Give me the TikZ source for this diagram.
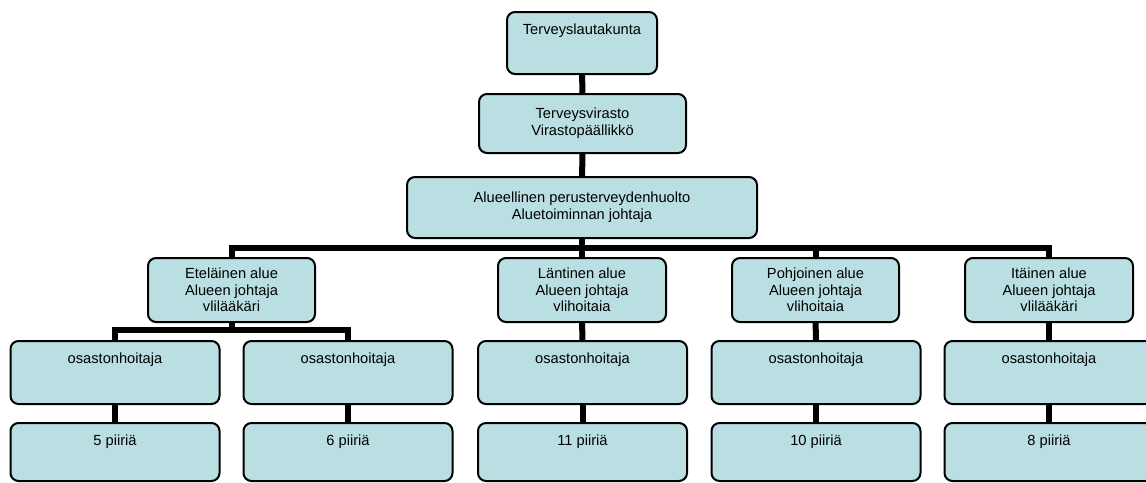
\documentclass[tikz,border=0pt]{standalone}
\usepackage{fontspec}
\setmainfont{Liberation Sans}
\usepackage{tikz}
\usetikzlibrary{calc}
\definecolor{boxfill}{RGB}{186,223,226}

\begin{document}
\begin{tikzpicture}[
	x=0.75pt, y=-0.75pt, % work in pixels of the original, y downwards
	box/.style={draw, line width=1.5pt, rounded corners=6pt, fill=boxfill,
		align=center, inner sep=2pt, font=\fontsize{11}{12.5}\selectfont},
	topline/.style={text height=8pt, text depth=#1}, % one line of text near the top
	link/.style={line width=4.5pt} % thick connectors
]
\useasboundingbox (0,0) rectangle (1146,482);

\node[box,topline=21.5pt,minimum width=112.5pt,minimum height=46.5pt](lauta) at (582,43) {Terveyslautakunta};
\node[box,minimum width=155.25pt,minimum height=44.25pt](viras) at (582.5,123.5) {Terveysvirasto\\Virastopäällikkö};
\node[box,minimum width=262.5pt,minimum height=45.75pt](alue) at (582,207.5) {Alueellinen perusterveydenhuolto\\Aluetoiminnan johtaja};

\node[box,minimum width=125.25pt,minimum height=48pt](etela) at (231.5,290) {Eteläinen alue\\Alueen johtaja\\vlilääkäri};
\node[box,minimum width=126pt,minimum height=48pt](lanti) at (582,290) {Läntinen alue\\Alueen johtaja\\vlihoitaia};
\node[box,minimum width=125.25pt,minimum height=48pt](pohjo) at (815.5,290) {Pohjoinen alue\\Alueen johtaja\\vlihoitaia};
\node[box,minimum width=126pt,minimum height=48pt](itain) at (1049,290) {Itäinen alue\\Alueen johtaja\\vlilääkäri};

\node[box,topline=22.25pt,minimum width=156.75pt,minimum height=47.25pt](os1) at (115,372.5) {osastonhoitaja};
\node[box,topline=22.25pt,minimum width=156.75pt,minimum height=47.25pt](os2) at (348,372.5) {osastonhoitaja};
\node[box,topline=22.25pt,minimum width=156.75pt,minimum height=47.25pt](os3) at (582.5,372.5) {osastonhoitaja};
\node[box,topline=22.25pt,minimum width=156.75pt,minimum height=47.25pt](os4) at (816,372.5) {osastonhoitaja};
\node[box,topline=22.25pt,minimum width=156.75pt,minimum height=47.25pt](os5) at (1049,372.5) {osastonhoitaja};

\node[box,topline=18.5pt,minimum width=156.75pt,minimum height=43.5pt](pi1) at (115,452) {5 piiriä};
\node[box,topline=18.5pt,minimum width=156.75pt,minimum height=43.5pt](pi2) at (348,452) {6 piiriä};
\node[box,topline=18.5pt,minimum width=156.75pt,minimum height=43.5pt](pi3) at (582.5,452) {11 piiriä};
\node[box,topline=18.5pt,minimum width=156.75pt,minimum height=43.5pt](pi4) at (816,452) {10 piiriä};
\node[box,topline=18.5pt,minimum width=156.75pt,minimum height=43.5pt](pi5) at (1049,452) {8 piiriä};

\coordinate (bus) at (582,248);
\coordinate (ebus) at (231.5,330);

\draw[link] (lauta) -- (viras);
\draw[link] (viras) -- (alue);
\foreach \n in {etela,lanti,pohjo,itain}
	\draw[link] (alue.south) |- (bus -| \n.north) -- (\n.north);
\foreach \n in {os1,os2}
	\draw[link] (etela.south) |- (ebus -| \n.north) -- (\n.north);
\draw[link] (lanti) -- (os3);
\draw[link] (pohjo) -- (os4);
\draw[link] (itain) -- (os5);
\foreach \i in {1,...,5}
	\draw[link] (os\i) -- (pi\i);
\end{tikzpicture}
\end{document}
